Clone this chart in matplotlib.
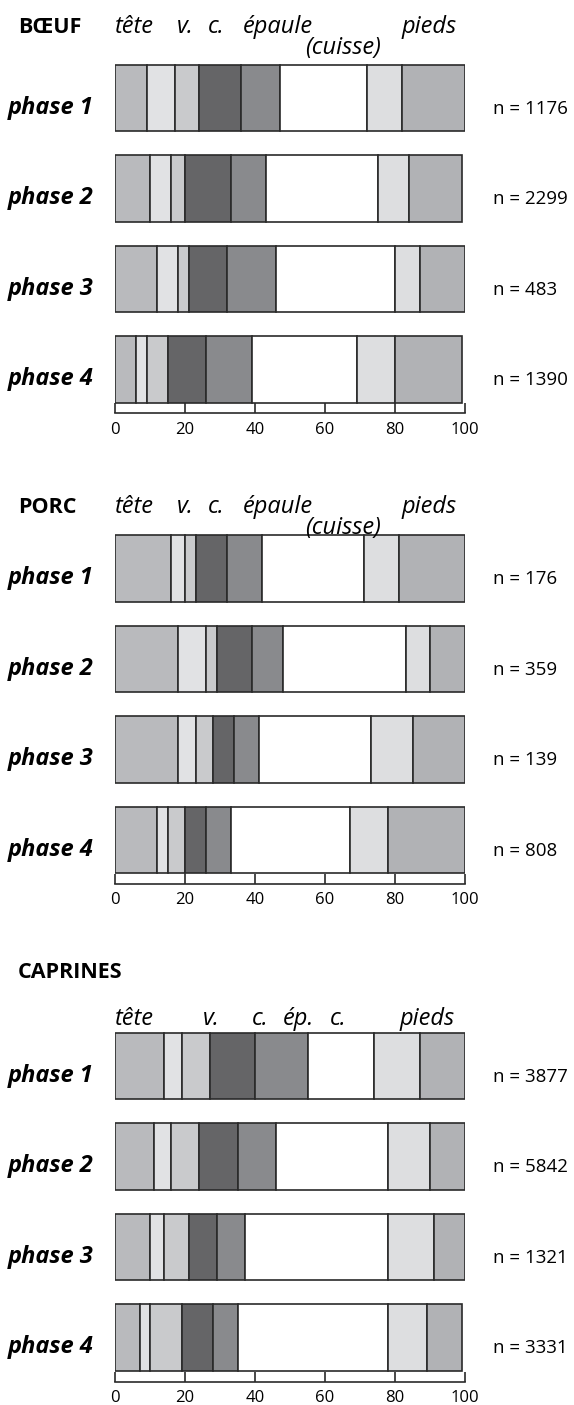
import numpy as np
import matplotlib
matplotlib.use('Agg')
import matplotlib.pyplot as plt

plt.rcParams['font.family'] = ['Open Sans', 'DejaVu Sans']

# segment widths (% of remains), order: tete, v1, v2, c1, c2, epaule/cuisse, pieds1, pieds2
phases = ['phase 1', 'phase 2', 'phase 3', 'phase 4']

boeuf = [[9, 8, 7, 12, 11, 25, 10, 18],
         [10, 6, 4, 13, 10, 32, 9, 15],
         [12, 6, 3, 11, 14, 34, 7, 13],
         [6, 3, 6, 11, 13, 30, 11, 19]]
boeuf_n = [1176, 2299, 483, 1390]

porc = [[16, 4, 3, 9, 10, 29, 10, 19],
        [18, 8, 3, 10, 9, 35, 7, 10],
        [18, 5, 5, 6, 7, 32, 12, 15],
        [12, 3, 5, 6, 7, 34, 11, 22]]
porc_n = [176, 359, 139, 808]

caprines = [[14, 5, 8, 13, 15, 19, 13, 13],
            [11, 5, 8, 11, 11, 32, 12, 10],
            [10, 4, 7, 8, 8, 41, 13, 9],
            [7, 3, 9, 9, 7, 43, 11, 10]]
caprines_n = [3877, 5842, 1321, 3331]

colors = ['#b9babd', '#e1e2e4', '#c9cacc', '#656567',
          '#898a8d', '#ffffff', '#dddee0', '#b1b2b5']
edge = '#2a2a2a'

W, H = 574, 1405
fig = plt.figure(figsize=(W / 100, H / 100), dpi=100)

step = 90.5  # px between bars
x0, x1 = 115, 465


def px2x(p):
    return (p - x0) / (x1 - x0) * 100


def panel(c1, data, ns, title, heads, head_y, title_y):
    top = c1 - 0.5 * step
    bot = c1 + 3 * step + 44
    ax = fig.add_axes([x0 / W, 1 - bot / H, (x1 - x0) / W, (bot - top) / H])
    ax.set_xlim(0, 100)
    ax.set_ylim(3 + 44 / step, -0.5)
    data = np.array(data)
    left = np.zeros(len(data))
    for k in range(data.shape[1]):
        ax.barh(np.arange(len(data)), data[:, k], left=left, height=0.73,
                color=colors[k], edgecolor=edge, linewidth=1.2)
        left += data[:, k]
    for i, ph in enumerate(phases):
        ax.text(px2x(8), i + 0.11, ph, ha='left', va='center', fontsize=17,
                fontweight='bold', style='italic', clip_on=False)
        ax.text(px2x(493), i + 0.12, 'n = %d' % ns[i], ha='left', va='center',
                fontsize=13.5, clip_on=False)
    ax.text(px2x(18), (title_y - c1) / step, title, ha='left', va='baseline',
            fontsize=15.5, fontweight='bold', clip_on=False)
    for txt, px, dy in heads:
        ax.text(px2x(px), (head_y + dy - c1) / step, txt, ha='left',
                va='baseline', fontsize=17, style='italic', clip_on=False)
    for s in ['left', 'right', 'top']:
        ax.spines[s].set_visible(False)
    ax.spines['bottom'].set_linewidth(1.2)
    ax.spines['bottom'].set_color(edge)
    ax.set_yticks([])
    ax.set_xticks([0, 20, 40, 60, 80, 100])
    ax.tick_params(axis='x', direction='in', length=7.5, width=1.2,
                   color=edge, labelsize=12, pad=6)
    return ax


heads_big = [('tête', 115, 0), ('v.', 177, 0), ('c.', 208, 0),
             ('épaule', 243, 0), ('(cuisse)', 305, 21), ('pieds', 402, 0)]
heads_cap = [('tête', 115, 0), ('v.', 203, 0), ('c.', 252, 0),
             ('ép.', 283, 0), ('c.', 330, 0), ('pieds', 400, 0)]

panel(98, boeuf, boeuf_n, 'BŒUF', heads_big, 33, 33)
panel(568.5, porc, porc_n, 'PORC', heads_big, 513, 513)
panel(1066, caprines, caprines_n, 'CAPRINES', heads_cap, 1025, 978)

fig.savefig('out.png', dpi=100)
